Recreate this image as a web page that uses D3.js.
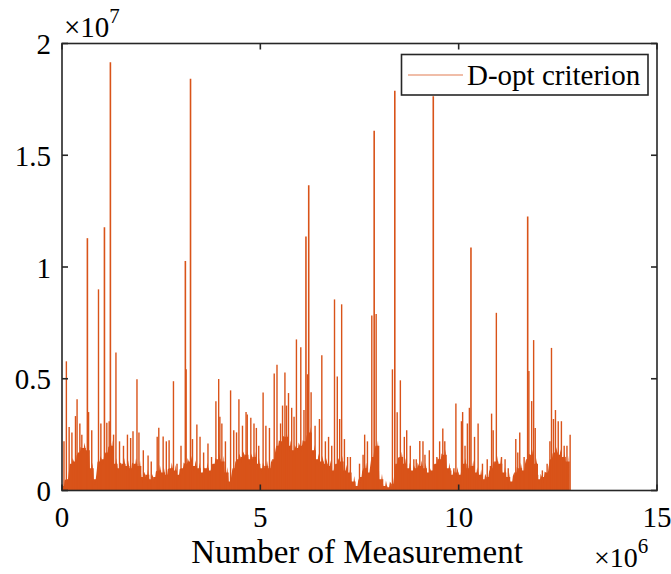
<!DOCTYPE html>
<html><head><meta charset="utf-8">
<script src="https://cdn.jsdelivr.net/npm/d3@7"></script>
<style>body{margin:0;background:#fff}svg{display:block}text{font-family:"Liberation Serif","Times New Roman",serif;fill:#000}</style>
</head><body><svg id="c" width="671" height="574"></svg>
<script>
// Data (x in units of 1e6 measurements, y in units of 1e7)
const xTicks = [0, 5, 10, 15];
const yTicks = [0, 0.5, 1, 1.5, 2];
const yTickLabels = ["0", "0.5", "1", "1.5", "2"];
const seriesName = "D-opt criterion";
// dense noise floor sampled every 0.1e6
const floorX = d3.range(0, 12.85, 0.1).map(v => +v.toFixed(1));
const floorY = [.02,.05,.12,.13,.17,.19,.18,.10,.05,.13,.14,.17,.20,.12,.10,.12,.11,.10,.12,.11,
  .06,.07,.05,.06,.09,.08,.07,.10,.09,.07,.10,.12,.13,.11,.10,.08,.10,.09,.12,.14,
  .13,.08,.04,.10,.14,.15,.16,.14,.15,.12,.10,.11,.10,.14,.20,.22,.24,.20,.18,.19,
  .20,.22,.26,.18,.14,.13,.12,.11,.09,.12,.13,.09,.08,.04,.02,.06,.10,.08,.15,.20,
  .05,.02,.015,.03,.12,.15,.12,.10,.09,.10,.11,.10,.08,.09,.12,.14,.16,.10,.07,.08,
  .07,.12,.10,.11,.08,.07,.05,.06,.10,.13,.12,.08,.06,.04,.08,.10,.09,.14,.16,.12,
  .05,.06,.08,.14,.17,.16,.15,.13,.12];
// individual peaks
const spikeX = [0.05,0.11,0.18,0.25,0.34,0.38,0.45,0.50,0.64,0.67,0.75,0.92,0.98,1.07,1.13,1.19,1.22,1.30,1.36,1.45,
  1.55,1.65,1.73,1.79,1.89,1.94,2.05,2.17,2.25,2.40,2.44,2.55,2.63,2.70,2.81,2.90,3.00,3.11,3.13,3.24,
  3.29,3.40,3.48,3.57,3.68,3.77,3.88,3.95,3.98,4.03,4.12,4.25,4.33,4.40,4.46,4.55,4.64,4.67,4.76,4.84,
  4.90,4.96,5.07,5.14,5.23,5.35,5.42,5.51,5.56,5.62,5.66,5.71,5.79,5.85,5.91,6.02,6.10,6.15,6.19,6.22,
  6.28,6.38,6.49,6.55,6.64,6.72,6.80,6.87,6.94,7.00,7.05,7.12,7.20,7.27,7.50,7.59,7.63,7.70,7.81,7.87,
  7.92,7.97,8.33,8.39,8.45,8.53,8.63,8.69,8.78,8.87,8.93,9.02,9.10,9.15,9.26,9.36,9.45,9.52,9.60,9.65,
  9.80,9.88,9.93,10.00,10.07,10.10,10.16,10.22,10.27,10.31,10.40,10.49,10.60,10.72,10.80,10.83,10.87,10.95,11.08,11.17,
  11.25,11.44,11.49,11.54,11.65,11.74,11.77,11.84,11.89,11.93,11.99,12.11,12.23,12.30,12.34,12.39,12.44,12.51,12.59,12.66,
  12.73,12.81];
const spikeY = [0.22,0.578,0.284,0.26,0.333,0.408,0.30,0.25,1.129,0.351,0.27,0.90,0.30,1.178,0.303,0.31,1.916,0.25,0.617,0.22,
  0.20,0.25,0.235,0.265,0.498,0.26,0.18,0.157,0.13,0.24,0.281,0.242,0.22,0.225,0.489,0.12,0.20,1.027,0.543,1.842,
  0.23,0.295,0.24,0.17,0.21,0.15,0.399,0.499,0.33,0.30,0.22,0.448,0.27,0.26,0.408,0.29,0.351,0.34,0.325,0.30,
  0.28,0.20,0.438,0.29,0.28,0.523,0.563,0.30,0.38,0.528,0.38,0.436,0.37,0.33,0.676,0.641,0.36,1.136,0.52,1.366,
  0.44,0.29,0.32,0.605,0.22,0.24,0.20,0.855,0.51,0.32,0.833,0.23,0.15,0.15,0.12,0.16,0.25,0.22,0.783,1.61,
  0.79,0.17,0.542,1.789,0.35,0.493,0.24,0.27,0.20,0.14,0.14,0.222,0.22,0.16,0.18,1.764,0.15,0.22,0.277,0.22,
  0.09,0.10,0.389,0.07,0.31,0.351,0.20,0.30,0.37,1.087,0.24,0.30,0.12,0.14,0.11,0.344,0.27,0.795,0.15,0.14,
  0.10,0.23,0.17,0.26,0.15,1.226,0.535,0.40,0.673,0.28,0.07,0.09,0.12,0.22,0.638,0.32,0.36,0.31,0.31,0.20,
  0.20,0.25];

const svg = d3.select("#c");
const m = {l: 62, r: 657, t: 43.5, b: 490.5};
const x = d3.scaleLinear().domain([0, 15]).range([m.l, m.r]);
const y = d3.scaleLinear().domain([0, 2]).range([m.b, m.t]);
const col = "#D95319";
const axisCol = "#262626";

const g = svg.append("g");
const floorData = floorX.map((v, i) => [v, floorY[i]]);
g.append("path")
  .datum(floorData)
  .attr("fill", col)
  .attr("d", d3.area().x(d => x(d[0])).y0(y(0)).y1(d => y(d[1])).curve(d3.curveStepAfter));

// jagged outline of the floor
const zig = [];
floorData.forEach((d, i) => {
  if (i < floorData.length - 1) {
    const nx = floorData[i + 1][0];
    zig.push([d[0], d[1]]);
    zig.push([(d[0] * 2 + nx) / 3, Math.max(0, d[1] - 0.025)]);
    zig.push([(d[0] + nx * 2) / 3, d[1] + 0.025]);
  }
});
g.append("path").datum(zig).attr("fill", col)
  .attr("d", d3.area().x(d => x(d[0])).y0(y(0)).y1(d => y(d[1])));

const spikes = spikeX.map((v, i) => [v, spikeY[i]]);
g.selectAll("line.sp").data(spikes).join("line")
  .attr("class", "sp")
  .attr("x1", d => x(d[0])).attr("x2", d => x(d[0]))
  .attr("y1", y(0)).attr("y2", d => y(d[1]))
  .attr("stroke", col)
  .attr("stroke-width", d => d[1] > 1 ? 1.6 : 1.4);

// axes box
const ax = svg.append("g").attr("stroke", axisCol).attr("stroke-width", 1.6).attr("fill", "none");
ax.append("rect").attr("x", m.l).attr("y", m.t).attr("width", m.r - m.l).attr("height", m.b - m.t);
const tl = 6;
xTicks.forEach(t => {
  ax.append("line").attr("x1", x(t)).attr("x2", x(t)).attr("y1", m.b).attr("y2", m.b - tl);
  ax.append("line").attr("x1", x(t)).attr("x2", x(t)).attr("y1", m.t).attr("y2", m.t + tl);
});
yTicks.forEach(t => {
  ax.append("line").attr("x1", m.l).attr("x2", m.l + tl).attr("y1", y(t)).attr("y2", y(t));
  ax.append("line").attr("x1", m.r).attr("x2", m.r - tl).attr("y1", y(t)).attr("y2", y(t));
});

const fs = 29;
svg.selectAll("text.xt").data(xTicks).join("text").attr("class", "xt")
  .attr("x", d => x(d)).attr("y", 527).attr("text-anchor", "middle")
  .style("font-size", fs + "px").text(d => d);
svg.selectAll("text.yt").data(yTicks).join("text").attr("class", "yt")
  .attr("x", 51).attr("y", d => y(d) + 10.5).attr("text-anchor", "end")
  .style("font-size", fs + "px").text((d, i) => yTickLabels[i]);

svg.append("text").attr("x", 357).attr("y", 563).attr("text-anchor", "middle")
  .style("font-size", "33px").text("Number of Measurement");

// exponents
const e7 = svg.append("text").attr("x", 64).attr("y", 37).style("font-size", fs + "px");
e7.append("tspan").text("\u00d710");
e7.append("tspan").attr("dy", -14).style("font-size", "21px").text("7");
const e6 = svg.append("text").attr("x", 594).attr("y", 567).style("font-size", "28px");
e6.append("tspan").text("\u00d710");
e6.append("tspan").attr("dy", -14).style("font-size", "21px").text("6");

// legend
const lg = svg.append("g");
lg.append("rect").attr("x", 401.5).attr("y", 54.5).attr("width", 246.5).attr("height", 40.5)
  .attr("fill", "#fff").attr("stroke", axisCol).attr("stroke-width", 1.6);
lg.append("line").attr("x1", 408).attr("x2", 463).attr("y1", 75).attr("y2", 75)
  .attr("stroke", col).attr("stroke-width", 1.2).attr("opacity", 0.75);
lg.append("text").attr("x", 467).attr("y", 85).style("font-size", "29px").text(seriesName);
</script></body></html>
